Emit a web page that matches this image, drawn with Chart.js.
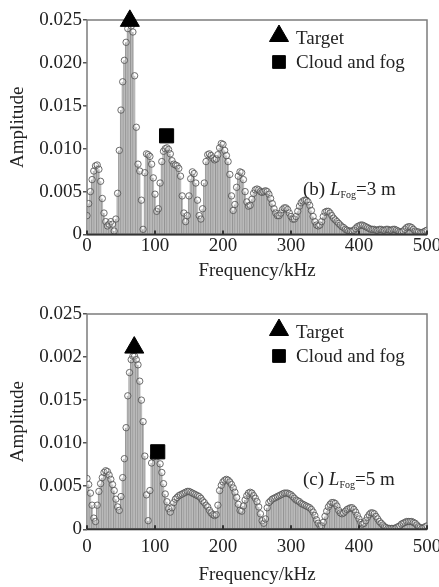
<!DOCTYPE html>
<html>
<head>
<meta charset="utf-8">
<script src="https://cdn.jsdelivr.net/npm/chart.js@4.4.0/dist/chart.umd.min.js"></script>
<style>
  html, body { margin: 0; padding: 0; background: #fff; }
  canvas { display: block; }
</style>
</head>
<body>
<canvas id="grafico_3m" width="439" height="293"></canvas>
<canvas id="grafico_5m" width="439" height="294"></canvas>
<script>

// frequencias (kHz)
const freq = [
  0, 2.5, 5, 7.5, 10, 12.5, 15, 17.5, 20, 22.5,
  25, 27.5, 30, 32.5, 35, 37.5, 40, 42.5, 45, 47.5,
  50, 52.5, 55, 57.5, 60, 62.5, 65, 67.5, 70, 72.5,
  75, 77.5, 80, 82.5, 85, 87.5, 90, 92.5, 95, 97.5,
  100, 102.5, 105, 107.5, 110, 112.5, 115, 117.5, 120, 122.5,
  125, 127.5, 130, 132.5, 135, 137.5, 140, 142.5, 145, 147.5,
  150, 152.5, 155, 157.5, 160, 162.5, 165, 167.5, 170, 172.5,
  175, 177.5, 180, 182.5, 185, 187.5, 190, 192.5, 195, 197.5,
  200, 202.5, 205, 207.5, 210, 212.5, 215, 217.5, 220, 222.5,
  225, 227.5, 230, 232.5, 235, 237.5, 240, 242.5, 245, 247.5,
  250, 252.5, 255, 257.5, 260, 262.5, 265, 267.5, 270, 272.5,
  275, 277.5, 280, 282.5, 285, 287.5, 290, 292.5, 295, 297.5,
  300, 302.5, 305, 307.5, 310, 312.5, 315, 317.5, 320, 322.5,
  325, 327.5, 330, 332.5, 335, 337.5, 340, 342.5, 345, 347.5,
  350, 352.5, 355, 357.5, 360, 362.5, 365, 367.5, 370, 372.5,
  375, 377.5, 380, 382.5, 385, 387.5, 390, 392.5, 395, 397.5,
  400, 402.5, 405, 407.5, 410, 412.5, 415, 417.5, 420, 422.5,
  425, 427.5, 430, 432.5, 435, 437.5, 440, 442.5, 445, 447.5,
  450, 452.5, 455, 457.5, 460, 462.5, 465, 467.5, 470, 472.5,
  475, 477.5, 480, 482.5, 485, 487.5, 490, 492.5, 495, 497.5,
  500
];

// (b) L_Fog = 3 m
const amp3m = [
  0.0022, 0.0036, 0.0050, 0.0064, 0.0074, 0.0080, 0.0081, 0.0076, 0.0062, 0.0042,
  0.0025, 0.0015, 0.0010, 0.0012, 0.0015, 0.0012, 0.0004, 0.0018, 0.0048, 0.0098,
  0.0145, 0.0178, 0.0203, 0.0224, 0.0240, 0.0247, 0.0243, 0.0236, 0.0185, 0.0125,
  0.0082, 0.0074, 0.0040, 0.0006, 0.0072, 0.0094, 0.0093, 0.0091, 0.0082, 0.0066,
  0.0047, 0.0027, 0.0030, 0.0060, 0.0085, 0.0097, 0.0100, 0.0101, 0.0099, 0.0094,
  0.0086, 0.0082, 0.0081, 0.0080, 0.0077, 0.0068, 0.0045, 0.0025, 0.0015, 0.0022,
  0.0045, 0.0065, 0.0073, 0.0071, 0.0060, 0.0040, 0.0022, 0.0018, 0.0030, 0.0060,
  0.0085, 0.0093, 0.0094, 0.0092, 0.0089, 0.0087, 0.0088, 0.0093, 0.0101, 0.0106,
  0.0105, 0.0098, 0.0092, 0.0085, 0.0070, 0.0045, 0.0028, 0.0035, 0.0055, 0.0068,
  0.0073, 0.0072, 0.0064, 0.0050, 0.0038, 0.0033, 0.0034, 0.0041, 0.0048, 0.0052,
  0.0053, 0.0052, 0.0050, 0.0049, 0.0050, 0.0051, 0.0050, 0.0047, 0.0042, 0.0036,
  0.0030, 0.0025, 0.0022, 0.0022, 0.0025, 0.0029, 0.0031, 0.0031, 0.0029, 0.0025,
  0.0021, 0.0018, 0.0018, 0.0021, 0.0027, 0.0033, 0.0037, 0.0039, 0.0040, 0.0040,
  0.0038, 0.0034, 0.0028, 0.0021, 0.0015, 0.0011, 0.0010, 0.0011, 0.0015, 0.0021,
  0.0026, 0.0027, 0.0027, 0.0025, 0.0022, 0.0019, 0.0017, 0.0015, 0.0013, 0.0011,
  0.0009, 0.0008, 0.0006, 0.0005, 0.0004, 0.0004, 0.0004, 0.0005, 0.0007, 0.0009,
  0.0010, 0.0011, 0.0011, 0.0010, 0.0009, 0.0008, 0.0007, 0.0006, 0.0006, 0.0006,
  0.0005, 0.0005, 0.0006, 0.0006, 0.0005, 0.0005, 0.0006, 0.0006, 0.0005, 0.0005,
  0.0006, 0.0006, 0.0005, 0.0004, 0.0003, 0.0003, 0.0004, 0.0006, 0.0008, 0.0009,
  0.0009, 0.0008, 0.0006, 0.0004, 0.0003, 0.0003, 0.0002, 0.0002, 0.0003, 0.0004,
  0.0005
];

// (c) L_Fog = 5 m
const amp5m = [
  0.0059, 0.0052, 0.0042, 0.0028, 0.0013, 0.0009, 0.0028, 0.0044, 0.0053, 0.0060,
  0.0066, 0.0068, 0.0067, 0.0063, 0.0058, 0.0052, 0.0045, 0.0035, 0.0026, 0.0022,
  0.0038, 0.0060, 0.0082, 0.0118, 0.0155, 0.0182, 0.0197, 0.0201, 0.0201, 0.0197,
  0.0191, 0.0172, 0.0150, 0.0125, 0.0085, 0.0040, 0.0010, 0.0045, 0.0077, 0.0084,
  0.0087, 0.0088, 0.0085, 0.0076, 0.0066, 0.0053, 0.0041, 0.0032, 0.0024, 0.0020,
  0.0025, 0.0031, 0.0035, 0.0037, 0.0039, 0.0040, 0.0041, 0.0042, 0.0043, 0.0044,
  0.0044, 0.0043, 0.0042, 0.0041, 0.0040, 0.0039, 0.0038, 0.0036, 0.0033, 0.0031,
  0.0028, 0.0026, 0.0022, 0.0019, 0.0017, 0.0016, 0.0017, 0.0028, 0.0045, 0.0051,
  0.0055, 0.0057, 0.0058, 0.0057, 0.0055, 0.0052, 0.0048, 0.0043, 0.0037, 0.0029,
  0.0022, 0.0021, 0.0027, 0.0034, 0.0039, 0.0042, 0.0043, 0.0042, 0.0039, 0.0036,
  0.0032, 0.0026, 0.0018, 0.0010, 0.0007, 0.0012, 0.0025, 0.0031, 0.0033, 0.0035,
  0.0036, 0.0037, 0.0038, 0.0039, 0.0040, 0.0041, 0.0042, 0.0042, 0.0042, 0.0041,
  0.0040, 0.0038, 0.0036, 0.0034, 0.0033, 0.0032, 0.0030, 0.0029, 0.0028, 0.0027,
  0.0026, 0.0025, 0.0023, 0.0020, 0.0016, 0.0011, 0.0007, 0.0004, 0.0004, 0.0008,
  0.0015, 0.0021, 0.0026, 0.0029, 0.0031, 0.0031, 0.0030, 0.0027, 0.0022, 0.0019,
  0.0018, 0.0019, 0.0021, 0.0023, 0.0024, 0.0025, 0.0025, 0.0023, 0.0020, 0.0016,
  0.0012, 0.0008, 0.0006, 0.0007, 0.0010, 0.0014, 0.0017, 0.0019, 0.0019, 0.0018,
  0.0015, 0.0012, 0.0009, 0.0007, 0.0005, 0.0003, 0.0002, 0.0001, 0.0001, 0.0001,
  0.0001, 0.0001, 0.0002, 0.0003, 0.0004, 0.0006, 0.0007, 0.0008, 0.0009, 0.0009,
  0.0009, 0.0009, 0.0008, 0.0007, 0.0005, 0.0003, 0.0002, 0.0001, 0.0002, 0.0003,
  0.0004
];

// marcadores [freq, amplitude]
const target3m = [63, 0.0249];
const fog3m = [117, 0.0115];
const target5m = [69.5, 0.0211];
const fog5m = [104, 0.0090];

const xTicks = [0, 100, 200, 300, 400, 500];
const yTickValues = [0, 0.005, 0.010, 0.015, 0.020, 0.025];
const yLabels3m = ['0', '0.005', '0.010', '0.015', '0.020', '0.025'];
const yLabels5m = ['0', '0.005', '0.010', '0.015', '0.002', '0.025'];
const legendLabels = ['Target', 'Cloud and fog'];

const fonte = '"Liberation Serif", "Times New Roman", "DejaVu Serif", serif';
Chart.defaults.font.family = fonte;
Chart.defaults.font.size = 19;
Chart.defaults.color = '#222';

const moldura = {
  id: 'moldura',
  beforeDatasetsDraw(chart) {
    const { ctx, chartArea: a } = chart;
    ctx.save();
    ctx.strokeStyle = '#7c7c7c';
    ctx.lineWidth = 1.5;
    ctx.strokeRect(a.left, a.top, a.right - a.left, a.bottom - a.top);
    ctx.restore();
  },
  afterDatasetsDraw(chart) {
    const { ctx, chartArea: a, scales } = chart;
    ctx.save();
    ctx.strokeStyle = '#333';
    ctx.lineWidth = 2;
    ctx.beginPath();
    ctx.moveTo(a.left, a.bottom);
    ctx.lineTo(a.right, a.bottom);
    ctx.stroke();
    // ticks para dentro no eixo x
    ctx.beginPath();
    scales.x.ticks.forEach(t => {
      const px = scales.x.getPixelForValue(t.value);
      ctx.moveTo(px, a.bottom);
      ctx.lineTo(px, a.bottom - 4);
    });
    ctx.stroke();
    ctx.restore();
  }
};

const legendaInterna = {
  id: 'legendaInterna',
  afterDraw(chart, args, opts) {
    const { ctx, chartArea: a } = chart;
    ctx.save();
    ctx.fillStyle = '#000';
    ctx.strokeStyle = '#000';
    const mx = a.left + 192;
    Chart.helpers.drawPoint(ctx, { pointStyle: 'triangle', radius: 11, borderWidth: 1 }, mx, a.top + 16);
    Chart.helpers.drawPoint(ctx, { pointStyle: 'rect', radius: 9, borderWidth: 1 }, mx, a.top + 42);

    ctx.fillStyle = '#222';
    ctx.textBaseline = 'middle';
    ctx.font = '19px ' + fonte;
    ctx.fillText(legendLabels[0], a.left + 209, a.top + 19);
    ctx.fillText(legendLabels[1], a.left + 209, a.top + 43);

    // (b) L_Fog=3 m
    let x = a.left + 216;
    const y = a.top + opts.textY;
    ctx.font = '19px ' + fonte;
    ctx.fillText(opts.panel + ' ', x, y);
    x += ctx.measureText(opts.panel + ' ').width;
    ctx.font = 'italic 19px ' + fonte;
    ctx.fillText('L', x, y);
    x += ctx.measureText('L').width;
    ctx.font = '10px ' + fonte;
    ctx.fillText('Fog', x, y + 5);
    x += ctx.measureText('Fog').width;
    ctx.font = '19px ' + fonte;
    ctx.fillText('=' + opts.dist + ' m', x, y);
    ctx.restore();
  }
};

function plotar_grafico(id, amps, yLabels, target, fog, cfg) {
  const pontos = freq.map((f, i) => ({ x: f, y: amps[i] }));

  return new Chart(document.getElementById(id), {
    data: {
      datasets: [
        {
          type: 'line',
          data: [{ x: target[0], y: target[1] }],
          showLine: false,
          pointStyle: 'triangle',
          pointRadius: 11,
          pointBackgroundColor: '#000',
          pointBorderColor: '#000',
          clip: false,
          order: 0
        },
        {
          type: 'line',
          data: [{ x: fog[0], y: fog[1] }],
          showLine: false,
          pointStyle: 'rect',
          pointRadius: 10,
          pointBackgroundColor: '#000',
          pointBorderColor: '#000',
          clip: false,
          order: 0
        },
        {
          type: 'line',
          data: pontos,
          showLine: false,
          pointStyle: 'circle',
          pointRadius: 3.2,
          pointBorderWidth: 1,
          pointBorderColor: 'rgba(85,85,85,0.85)',
          pointBackgroundColor: 'rgba(255,255,255,0.2)',
          order: 1
        },
        {
          type: 'bar',
          data: pontos,
          backgroundColor: '#bcbcbc',
          borderColor: '#858585',
          borderWidth: { left: 0.7, right: 0, top: 0, bottom: 0 },
          barPercentage: 1,
          categoryPercentage: 1,
          order: 2
        }
      ]
    },
    options: {
      responsive: false,
      animation: false,
      devicePixelRatio: 1,
      layout: { padding: { top: cfg.top, right: 11, left: 0, bottom: 0 } },
      plugins: {
        legend: { display: false },
        tooltip: { enabled: false },
        legendaInterna: { panel: cfg.panel, dist: cfg.dist, textY: cfg.textY }
      },
      scales: {
        x: {
          type: 'linear',
          min: 0,
          max: 500,
          offset: false,
          afterBuildTicks: s => { s.ticks = xTicks.map(v => ({ value: v })); },
          grid: { display: false, drawTicks: false },
          border: { display: false },
          ticks: { padding: cfg.tickPad, color: '#222', maxRotation: 0, autoSkip: false },
          title: { display: true, text: 'Frequency/kHz', color: '#222', padding: { top: 0, bottom: cfg.titleBottom } },
          afterFit: s => { s.paddingLeft = 0; s.paddingRight = 0; s.height = cfg.xHeight; }
        },
        y: {
          min: 0,
          max: 0.025,
          afterBuildTicks: s => { s.ticks = yTickValues.map(v => ({ value: v })); },
          grid: { display: true, drawOnChartArea: false, drawTicks: true, tickLength: 4, color: '#555', lineWidth: 1.5 },
          border: { display: false },
          ticks: { padding: 1, color: '#222', callback: (v, i) => yLabels[i] },
          title: { display: true, text: 'Amplitude', color: '#222', padding: { top: 7, bottom: 0 } },
          afterFit: s => { s.width = 87; }
        }
      }
    },
    plugins: [moldura, legendaInterna]
  });
}

plotar_grafico('grafico_3m', amp3m, yLabels3m, target3m, fog3m,
  { top: 20, xHeight: 58.5, tickPad: 0, titleBottom: 11, panel: '(b)', dist: '3', textY: 170 });
plotar_grafico('grafico_5m', amp5m, yLabels5m, target5m, fog5m,
  { top: 21, xHeight: 57.7, tickPad: 6, titleBottom: 1, panel: '(c)', dist: '5', textY: 166 });

</script>
</body>
</html>
